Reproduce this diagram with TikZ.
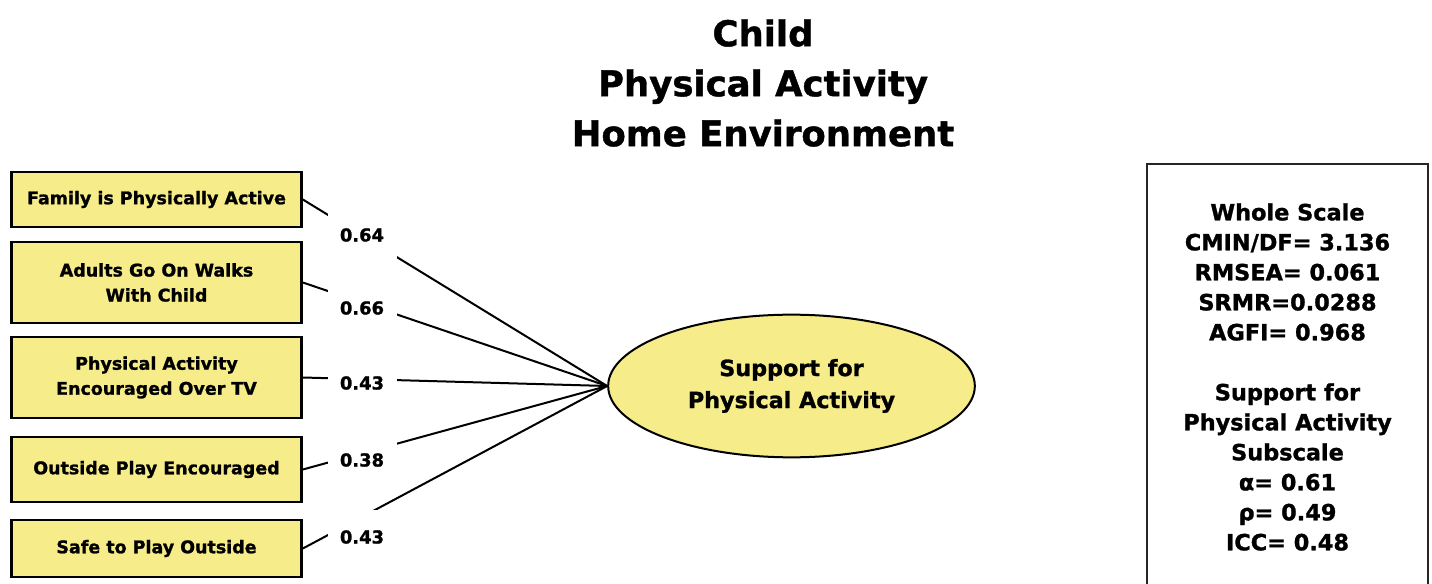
\documentclass[tikz,border=0pt]{standalone}
\usepackage{fontspec}
\setmainfont{DejaVu Sans}[BoldFeatures={FakeBold=1.2}]
\usetikzlibrary{shapes.geometric}
\definecolor{boxyellow}{RGB}{246,236,138}
\begin{document}
\begin{tikzpicture}[x=0.75pt,y=-0.75pt,
  item/.style={rectangle,draw=black,line width=2pt,fill=boxyellow,minimum width=217.5pt,align=center,inner sep=0pt,font=\bfseries\fontsize{13.1}{18.75}\selectfont},
  factor/.style={ellipse,draw=black,line width=1.5pt,fill=boxyellow,minimum width=275pt,minimum height=107pt,inner sep=0pt,align=center,font=\bfseries\fontsize{16.7}{24}\selectfont},
  load/.style={fill=white,minimum width=51.75pt,minimum height=40.5pt,inner sep=0pt,font=\bfseries\fontsize{13.4}{15}\selectfont},
  link/.style={line width=1.5pt}]

\useasboundingbox (0,0) rectangle (1432,584);

\node[align=center,font=\bfseries\fontsize{26.6}{37.5}\selectfont] (title) at (763,83) {Child\\Physical Activity\\Home Environment};

\node[item,minimum height=41.25pt] (fam) at (156.5,199.5) {Family is Physically Active};
\node[item,minimum height=60.75pt] (walk) at (156.5,282.5) {Adults Go On Walks\\With Child};
\node[item,minimum height=60.75pt] (tv) at (156.5,377.5) {Physical Activity\\Encouraged Over TV};
\node[item,minimum height=48.75pt] (play) at (156.5,469.5) {Outside Play Encouraged};
\node[item,minimum height=42.75pt] (safe) at (156.5,548.5) {Safe to Play Outside};

\node[factor] (sup) at (791.5,386) {Support for\\Physical Activity};

\draw[link] (fam.east) -- (sup.west);
\draw[link] (walk.east) -- (sup.west);
\draw[link] (tv.east) -- (sup.west);
\draw[link] (play.east) -- (sup.west);
\draw[link] (safe.east) -- (sup.west);

\node[load] (lfam) at (362,235) {0.64};
\node[load] (lwalk) at (362,308) {0.66};
\node[load] (ltv) at (362,383) {0.43};
\node[load] (lplay) at (362,460) {0.38};
\node[load] (lsafe) at (362,537) {0.43};

\node[rectangle,draw=black!85,line width=1.5pt,minimum width=210.75pt,minimum height=319.5pt,align=center,font=\bfseries\fontsize{16.8}{22.5}\selectfont] (stats) at (1287.5,377) {Whole Scale\\CMIN/DF= 3.136\\RMSEA= 0.061\\SRMR=0.0288\\AGFI= 0.968\\[22.5pt]Support for\\Physical Activity\\Subscale\\α= 0.61\\ρ= 0.49\\ICC= 0.48};

\end{tikzpicture}
\end{document}
